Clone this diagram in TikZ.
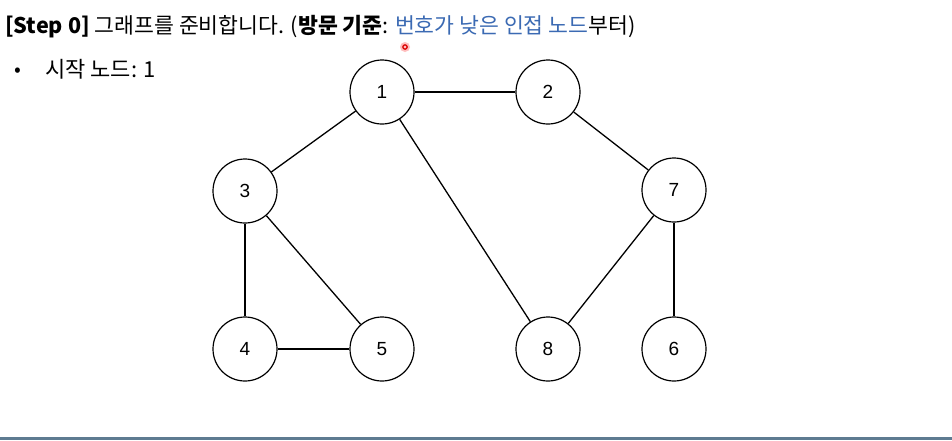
\documentclass[tikz,border=0pt]{standalone}
\usepackage{fontspec}
\setmainfont{Noto Sans CJK KR}
\newfontfamily\numfont{Liberation Sans}
\definecolor{hlblue}{HTML}{3B6AB3}
\definecolor{barcol}{HTML}{5E7B91}
\begin{document}
\begin{tikzpicture}[x=1pt,y=-1pt,
  vert/.style={circle,draw=black,line width=1.2pt,minimum size=64pt,inner sep=0pt,font=\numfont\fontsize{19}{19}\selectfont},
  edge/.style={line width=1.3pt}]
\useasboundingbox[fill=white] (0,0) rectangle (952,440);
\fill[barcol] (0,436.5) rectangle (952,440);
\node[anchor=base west,inner sep=0pt,font=\fontsize{21.6}{24}\selectfont] (title) at (5,33)
  {\textbf{[Step 0]} 그래프를 준비합니다. (\textbf{방문 기준}: \textcolor{hlblue}{번호가 낮은 인접 노드}부터)};
\node[anchor=base west,inner sep=0pt,font=\fontsize{20}{22}\selectfont] (bullet) at (14,76) {•};
\node[anchor=base west,inner sep=0pt,font=\fontsize{22}{24}\selectfont] (start) at (45,77) {시작 노드: 1};
\fill[red!25] (405,47) circle (5);
\draw[red!85!black,line width=1.2pt] (405,47) circle (2.2);
\node[vert] (n1) at (382,92) {1};
\node[vert] (n2) at (548,92) {2};
\node[vert] (n3) at (245,191) {3};
\node[vert] (n7) at (674,190) {7};
\node[vert] (n4) at (245,349) {4};
\node[vert] (n5) at (382,349) {5};
\node[vert] (n8) at (548,349) {8};
\node[vert] (n6) at (674,349) {6};
\draw[edge] (n1) -- (n2);
\draw[edge] (n1) -- (n3);
\draw[edge] (n1) -- (n8);
\draw[edge] (n2) -- (n7);
\draw[edge] (n3) -- (n4);
\draw[edge] (n3) -- (n5);
\draw[edge] (n4) -- (n5);
\draw[edge] (n7) -- (n8);
\draw[edge] (n7) -- (n6);
\end{tikzpicture}
\end{document}
